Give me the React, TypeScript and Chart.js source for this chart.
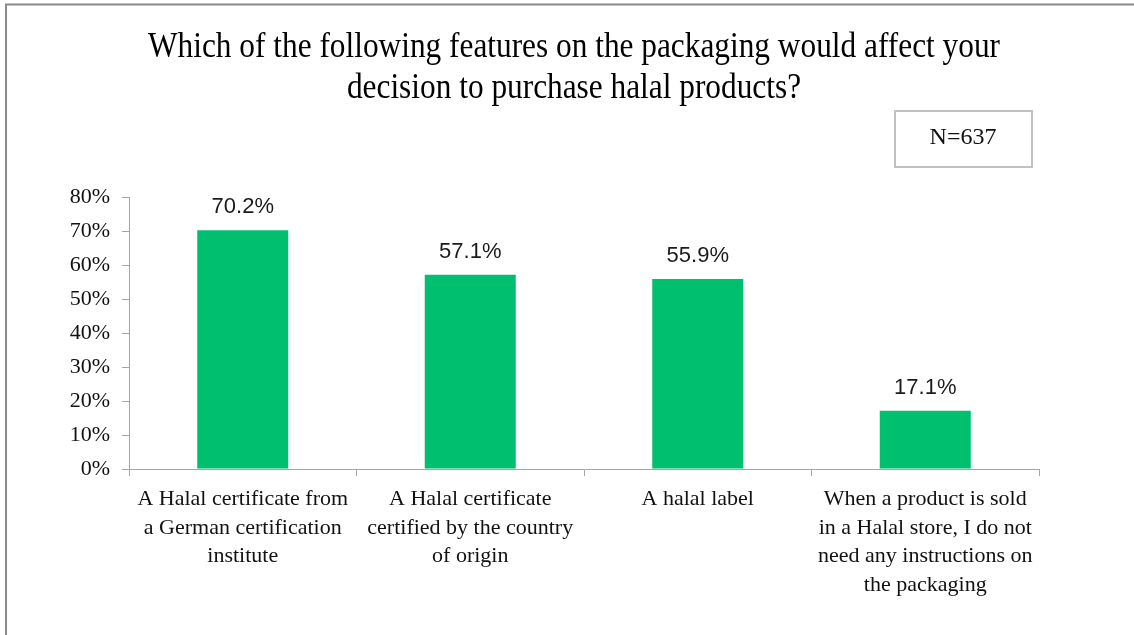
import { useEffect, useRef } from "react";
import { Chart, registerables } from "chart.js";

Chart.register(...registerables);

const categories: string[][] = [
  ["A Halal certificate from", "a German certification", "institute"],
  ["A Halal certificate", "certified by the country", "of origin"],
  ["A halal label"],
  ["When a product is sold", "in a Halal store, I do not", "need any instructions on", "the packaging"],
];
const values = [70.2, 57.1, 55.9, 17.1];
const valueLabels = ["70.2%", "57.1%", "55.9%", "17.1%"];
const titleLines = [
  "Which of the following features on the packaging would affect your",
  "decision to purchase halal products?",
];
const sampleNote = "N=637";
const yMax = 80;
const yStep = 10;

const SERIF = '"Liberation Serif", "Times New Roman", serif';
const SANS = '"Liberation Sans", Arial, sans-serif';

const decorPlugin = {
  id: "decor",
  beforeDraw(chart: any) {
    const ctx = chart.ctx;
    ctx.save();
    ctx.fillStyle = "#ffffff";
    ctx.fillRect(0, 0, chart.width, chart.height);
    // frame
    ctx.strokeStyle = "#8a8a8a";
    ctx.lineWidth = 2;
    ctx.beginPath();
    ctx.moveTo(6, chart.height + 5);
    ctx.lineTo(6, 4.5);
    ctx.lineTo(chart.width + 5, 4.5);
    ctx.stroke();
    // title
    ctx.fillStyle = "#000000";
    ctx.font = `36px ${SERIF}`;
    ctx.textAlign = "center";
    ctx.textBaseline = "alphabetic";
    const w0 = ctx.measureText(titleLines[0]).width;
    const sx = 852 / w0;
    const baselines = [57, 98];
    titleLines.forEach((line, i) => {
      ctx.save();
      ctx.translate(574, baselines[i]);
      ctx.scale(sx, 1);
      ctx.fillText(line, 0, 0);
      ctx.restore();
    });
    // N box
    ctx.strokeStyle = "#c0c0c0";
    ctx.lineWidth = 2;
    ctx.strokeRect(895, 111, 137, 56);
    ctx.fillStyle = "#111111";
    ctx.font = `24px ${SERIF}`;
    ctx.textBaseline = "middle";
    ctx.fillText(sampleNote, 963, 138);
    ctx.restore();
  },
  afterDatasetsDraw(chart: any) {
    const ctx = chart.ctx;
    const meta = chart.getDatasetMeta(0);
    ctx.save();
    ctx.fillStyle = "#1a1a1a";
    ctx.font = `22px ${SANS}`;
    ctx.textAlign = "center";
    ctx.textBaseline = "middle";
    meta.data.forEach((bar: any, i: number) => {
      ctx.fillText(valueLabels[i], bar.x, bar.y - 23);
    });
    ctx.restore();
  },
};

export default function App() {
  const ref = useRef<HTMLCanvasElement | null>(null);
  useEffect(() => {
    document.body.style.margin = "0";
    const canvas = ref.current;
    if (!canvas) return;
    const chart = new Chart(canvas, {
      type: "bar",
      data: {
        labels: categories,
        datasets: [
          {
            data: values,
            backgroundColor: "#00BF6F",
            borderWidth: 0,
            categoryPercentage: 1,
            barPercentage: 0.4,
          },
        ],
      },
      options: {
        responsive: false,
        animation: false,
        layout: { padding: { top: 197, right: 95, bottom: 0, left: 0 } },
        plugins: {
          legend: { display: false },
          title: { display: false },
          tooltip: { enabled: false },
        },
        scales: {
          x: {
            afterFit: (scale: any) => {
              scale.height = 166;
            },
            grid: {
              offset: true,
              drawOnChartArea: false,
              drawTicks: true,
              tickLength: 7,
              color: "#a6a6a6",
            },
            border: { display: true, color: "#a6a6a6", width: 1 },
            ticks: {
              color: "#111111",
              font: { family: SERIF, size: 22, lineHeight: 1.3 },
              padding: 9,
              maxRotation: 0,
              minRotation: 0,
              autoSkip: false,
            },
          },
          y: {
            min: 0,
            max: yMax,
            afterFit: (scale: any) => {
              scale.width = 129;
            },
            grid: {
              drawOnChartArea: false,
              drawTicks: true,
              tickLength: 7,
              color: "#a6a6a6",
            },
            border: { display: true, color: "#a6a6a6", width: 1 },
            ticks: {
              stepSize: yStep,
              color: "#111111",
              font: { family: SERIF, size: 22 },
              padding: 12,
              callback: (v: any) => `${v}%`,
            },
          },
        },
      },
      plugins: [decorPlugin],
    });
    return () => chart.destroy();
  }, []);
  return (
    <div style={{ width: 1134, height: 635 }}>
      <canvas ref={ref} width={1134} height={635} style={{ display: "block" }} />
    </div>
  );
}
